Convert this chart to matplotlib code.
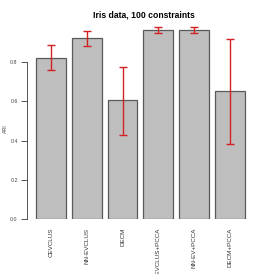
import matplotlib
matplotlib.use("Agg")
import matplotlib.pyplot as plt
import numpy as np

methods = ["CEVCLUS", "NN-EVCLUS", "DECM", "CEVCLUS+PCCA", "NN-EV+PCCA", "DECM+PCCA"]
ari_mean = [0.822, 0.920, 0.605, 0.961, 0.961, 0.653]
ari_low = [0.759, 0.883, 0.430, 0.946, 0.946, 0.383]
ari_high = [0.886, 0.959, 0.776, 0.977, 0.977, 0.919]
yticks = [0.0, 0.2, 0.4, 0.6, 0.8]

plt.rcParams['font.family'] = ['Liberation Sans', 'DejaVu Sans']
fig = plt.figure(figsize=(2.74, 2.74), dpi=100)
ax = fig.add_axes([0.1, 0.1996, 0.847, 0.7174])

x = 0.7 + 1.2 * np.arange(len(methods))
ax.bar(x, ari_mean, width=1.0, color="#BEBEBE", edgecolor="#5a5a5a", linewidth=0.9)
mean = np.array(ari_mean)
yerr = [mean - np.array(ari_low), np.array(ari_high) - mean]
ax.errorbar(x, mean, yerr=yerr, fmt="none", ecolor="#D42020", elinewidth=1.0,
            capsize=3.2, capthick=1.0)

ax.set_xlim(0.2 - 0.28, 7.4 + 0.28)
ax.set_ylim(0, 1.0)
for s in ["top", "right", "bottom"]:
    ax.spines[s].set_visible(False)
ax.spines["left"].set_bounds(0, 0.8)
ax.spines["left"].set_color("#555555")
ax.spines["left"].set_linewidth(0.7)
ax.set_yticks(yticks)
ax.set_yticklabels([f"{t:.1f}" for t in yticks])
ax.tick_params(axis="y", length=4, width=0.7, color="#555555", labelsize=3.8,
               labelcolor="#444444", pad=3)
ax.set_xticks(x)
ax.set_xticklabels(methods, rotation=90, fontsize=4.5, color="#333333", va="top")
ax.tick_params(axis="x", length=0, pad=6)
ax.set_ylabel("ARI", fontsize=3.8, color="#444444")
ax.yaxis.set_label_coords(-0.085, 0.46)
ax.set_title("Iris data, 100 constraints", fontsize=6.2, fontweight="bold", pad=4)

fig.savefig("out.png", dpi=100)
